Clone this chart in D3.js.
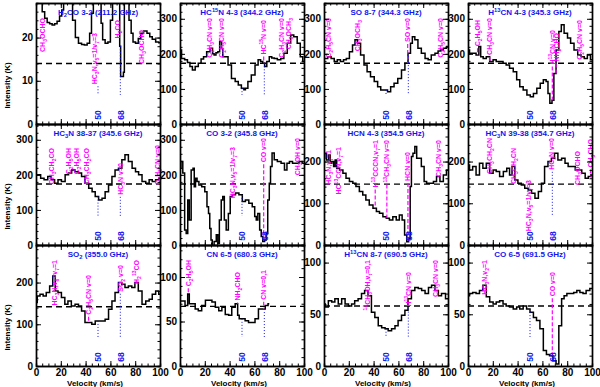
<!DOCTYPE html>
<html>
<head>
<meta charset="utf-8">
<script src="https://cdn.jsdelivr.net/npm/d3@7"></script>
<style>
body { margin: 0; background: #fff; }
svg { display: block; font-family: "Liberation Sans", Arial, sans-serif; }
</style>
</head>
<body>
<svg id="chart" width="600" height="387"></svg>
<script>
// spectra: [velocity km/s, intensity K]
const h2co = [[0,31],[2,30],[4,28],[6,26],[8,24.5],[10,23.5],[12,23.2],[14,22.9],[16,23.2],[18,23.8],[20,25],[21.5,26.4],[23,29],[25,31],[27,31],[28.5,29],[30.5,24],[33,20],[35.5,18.7],[38,18.4],[40,18.3],[42.5,18.7],[44,21],[45.5,25.6],[47,29],[50,31],[52,30],[53,23.3],[54.5,19.5],[57,18.7],[59,19],[61,24],[62.5,29],[65,31],[67,29],[68,18],[68.5,11],[70,11],[71,12],[71.5,30],[74,30],[76,24],[77.5,21],[79,19],[81.5,18.7],[83.5,19.8],[85.5,21],[88,21.5],[91,21],[92.5,20.2],[95,19.6],[98,19],[100,18.8]];
const hc15n = [[0,211],[2.5,187],[5,183],[7,175],[9,164],[11,154],[13.5,164],[16,173],[18,185],[20,192],[23,206],[25.5,216],[27,200],[28,197],[30,203],[31,206],[33,235],[34,215],[35,192],[37.5,192],[40,168],[43,130],[46,121],[48,111],[51,102],[52,98],[53.5,102],[56,121],[59,140],[62,168],[64,183],[66,178],[67.5,173],[69,164],[71,178],[73,192],[75,188],[77,187],[80,183],[82.5,187],[85,202],[88,230],[90.5,254],[93,249],[96,230],[98,192],[100,178]];
const so87 = [[0,187],[1.5,187],[4.5,192],[7,187],[9.5,178],[12,183],[14.5,178],[17,183],[19,187],[22,206],[24,225],[26,240],[28,230],[31,197],[33.5,168],[36,149],[39,135],[42,121],[44.5,106],[47,97],[50,97],[52.5,92],[55,106],[58,116],[61,130],[64,154],[66.5,173],[69,202],[70.5,230],[72,249],[74.5,240],[77,216],[80,202],[83,187],[85,183],[88,197],[91,202],[93,208],[95,211],[97.5,216],[100,221]];
const h13cn43 = [[0,211],[2.5,202],[5,202],[8,197],[9.5,221],[11,192],[13.5,187],[16,192],[19,178],[21.5,183],[24,178],[27,178],[29.5,173],[32,168],[35,159],[38,149],[40.5,126],[43,106],[46,97],[49,83],[51.5,78],[54,87],[57,102],[59.5,116],[62,126],[64,121],[65,87],[67,59],[68.5,68],[70,144],[72,211],[74.5,264],[76,283],[79,259],[81.5,245],[84,230],[87,211],[90,197],[92.5,192],[95,187],[97.5,197],[100,183]];
const hc3n3837 = [[0,200],[2.5,200],[5,190],[8,186],[11,195],[13.5,186],[16.5,176],[19,186],[22,181],[25,200],[27.5,205],[30,214],[33,209],[35.5,205],[38,195],[41,176],[44,162],[46.5,152],[49,138],[52,128],[54.5,133],[57,152],[60,171],[62.5,195],[65,214],[68,219],[70.5,243],[73,257],[76,238],[79,219],[81.5,209],[84,200],[87,181],[90,176],[92.5,186],[95,181],[98,186],[100,190]];
const co32 = [[0,219],[1.5,238],[3,205],[4.5,43],[5.5,33],[7,128],[8,71],[10,214],[11,219],[12,166],[13,190],[14.5,181],[16,171],[19,166],[21,152],[22.5,109],[23.5,90],[24.5,47],[25.5,14],[26.5,-10],[28.5,10],[30,29],[31,5],[32.5,71],[34,128],[35,138],[36.5,71],[38,43],[40,90],[41,138],[43.5,143],[46,148],[49,143],[51.5,124],[54,128],[57,119],[59.5,109],[61,81],[62,71],[63.5,90],[65,43],[66,24],[67.5,10],[69,14],[70,33],[71.5,128],[72.5,176],[73.5,224],[75,262],[77,243],[80,238],[83,233],[85.5,214],[87,233],[89.5,238],[92,233],[95,233],[97,238],[100,233]];
const hcn43 = [[0,208],[1,220],[3,204],[4.5,216],[5.5,196],[7,200],[8.5,188],[9.5,204],[11,184],[14,180],[16.5,172],[19,160],[22,152],[24.5,148],[27,140],[30,128],[32.5,120],[35,108],[38,96],[41,88],[43.5,80],[46,76],[49,68],[51.5,64],[54,60],[57,68],[59.5,60],[62,72],[64,60],[66,24],[67.5,8],[69,16],[70,140],[71,212],[72.5,220],[74,236],[75.5,208],[77,208],[80,188],[81.5,152],[84,148],[87,148],[89.5,152],[92,164],[95,152],[97.5,168],[100,180]];
const hc3n3938 = [[0,192],[2.5,180],[5,188],[8,168],[10.5,196],[13.5,184],[16,196],[19,172],[21.5,180],[24,176],[27,164],[30,176],[32.5,184],[34.5,168],[36.5,188],[39,156],[41.5,148],[44.5,144],[47,136],[50,132],[52.5,124],[55.5,112],[58,128],[60.5,148],[63,188],[66,200],[68.5,208],[71,220],[74,204],[77,208],[79.5,196],[82,188],[85,188],[88,180],[90.5,180],[93,172],[96,160],[98,164],[100,168]];
const so2 = [[0,152],[2,168],[4.5,172],[7,168],[9.5,176],[12.5,192],[14.5,216],[16.5,180],[19,176],[22,164],[24.5,148],[27,156],[30,144],[33,148],[35.5,144],[38,132],[41,104],[43.5,104],[46.5,100],[49,108],[52,108],[54.5,108],[57,112],[60,136],[62.5,156],[65,176],[68,200],[70.5,196],[73,188],[76,192],[78.5,188],[81,200],[84,180],[87,148],[90,156],[92.5,160],[95,172],[98,180],[100,172]];
const cn65 = [[0,73],[2.7,73],[5.4,68],[7,81],[8,70],[11,70],[13.5,64],[16,62],[19,68],[22,74],[24.5,74],[27,72],[30,66],[32.5,62],[35,66],[38,58],[40.5,57],[43,66],[46,70],[47,57],[48.5,53],[51,53],[54,51],[56.5,49],[59,49],[62,53],[64.5,64],[67.5,64],[70,68],[72,70]];
const h13cn87 = [[0,60],[2,57],[5,63],[7.5,62],[10,65],[13,60],[15.5,65],[18.5,60],[21,58],[23.5,60],[26,63],[29,65],[31.5,70],[34,73],[37,68],[39.5,52],[42.5,47],[45,39],[48,37],[50.5,36],[53,34],[56,36],[58.5,39],[61,44],[64,49],[66.5,54],[69,65],[72,73],[74.5,76],[77.5,75],[80,73],[83,70],[85.5,76],[88,78],[91,73],[93.5,68],[96,70],[100,65]];
const co65 = [[0,68],[2.5,70],[5,71],[8,70],[10.5,73],[13.5,78],[16,67],[19,62],[21.5,60],[24,62],[27,63],[29.5,60],[32,58],[35,57],[38,55],[40.5,57],[43,55],[46,58],[48.5,55],[51.5,52],[54,47],[56.5,44],[59.5,36],[62,15],[64.5,11],[67,10],[70,5],[72,2],[74.5,39],[76.5,65],[78.5,68],[81,70],[84,70],[86.5,71],[89,73],[91.5,71],[94,70],[96.5,73],[100,75]];

// line identifications: [velocity, name, label top offset]
const labH2co = [[5,"CH_3OCHO",15],[47,"HC_3N,v_5=1/v_7=3",30],[66,"H_2CO",17],[85,"CH_3OCHO",27]];
const labHc15n = [[23.5,"C_2H_3CN v=0",15],[33.5,"C_2H_5CN v=0",15],[67.5,"HC^{15}N v=0",17],[82,"C_2H_3CN v=0",15],[87.7,"CH_3OCH_3",15]];
const labSo87 = [[3.5,"C_2H_5CN v=0",15],[27,"CH_3OCH_3",17],[67.5,"SO v=0",15],[94,"C_2H_5CN v=0",15]];
const labH13cn43 = [[7.7,"C_2H_5OH",17],[17.6,"CH_3CN v=0",15],[68,"H^{13}CN v=0",27],[71,"NH_2CHO",30],[90,"C_2H_5CN v=0",17]];
const labHc3n3837 = [[12.7,"CH_3CH_2CO",24],[26,"C_2H_5OH",24],[33,"C_2H_5OH",24],[40.5,"CH_3CH_2CO",24],[68,"HC_3N v=0",39],[98,"C_2H_5CN v=0",21]];
const labCo32 = [[42.7,"HC_3N,v_5=1/v_7=3",23],[67.5,"CO v=0",14],[94.5,"CH_3OH v=0",14]];
const labHcn43 = [[3.5,"HC_3N,v_7=1",26],[11.6,"HC^{13}CCN,v_7=1",23],[41.3,"H^{13}CCCN,v_7=1",16],[50.7,"^{13}CH_3CN v=0",16],[67.7,"HCN v=0",28],[92.6,"CH_3CN v=0",16]];
const labHc3n3938 = [[17.3,"CH_3CH_2CN",14],[36.7,"CH_3CH_2CN",24],[48.8,"HC_3N,v_5=1/v_7=3",56],[67.7,"HC_3N v=0",14],[88.5,"CH_3OCHO",27],[98.8,"CH_3CHO",15]];
const labSo2 = [[14.6,"HC_3N,v_6=v_7=1",15],[42.4,"C_2H_5CN v=0",30],[68.5,"SO_2 v=0",20],[81,"H_2^{13}CO",15]];
const labCn65 = [[6.7,"C_2H_5OH",15],[46.4,"NH_2CHO",27],[67.5,"CN v=0,1",25]];
const labH13cn87 = [[35,"^{13}CH_3OH,v_t=0,1",15],[68.3,"H^{13}CN v=0",27],[90,"CH_3CN v=0",15]];
const labCo65 = [[13.2,"HC_3N,v_2=1",15],[68,"CO v=0",27]];

const titles = ["H_2CO 3-2 (211.2 GHz)","HC^{15}N 4-3 (344.2 GHz)","SO 8-7 (344.3 GHz)","H^{13}CN 4-3 (345.3 GHz)",
  "HC_3N 38-37 (345.6 GHz)","CO 3-2 (345.8 GHz)","HCN 4-3 (354.5 GHz)","HC_3N 39-38 (354.7 GHz)",
  "SO_2 (355.0 GHz)","CN 6-5 (680.3 GHz)","H^{13}CN 8-7 (690.5 GHz)","CO 6-5 (691.5 GHz)"];
const yMax = [28,345,345,345, 345,345,290,290, 290,136,117,117];
const continuum = [14,173,173,173, 174,174,146,146, 142,67,58,58];
const refVel = [50,68];

const spectra = [h2co,hc15n,so87,h13cn43,hc3n3837,co32,hcn43,hc3n3938,so2,cn65,h13cn87,co65];
const labels = [labH2co,labHc15n,labSo87,labH13cn43,labHc3n3837,labCo32,labHcn43,labHc3n3938,labSo2,labCn65,labH13cn87,labCo65];

const svg = d3.select("#chart");
const W = 124, H = 121;
const colX = [36, 180, 324, 468];
const rowY = [3, 124, 245];
const BLUE = "#1414f0", MAG = "#ff00ff";

// "_x" subscript, "^x" superscript, braces group several chars
function rich(text, str, size) {
  const re = /([_^])(\{[^}]*\}|.)|([^_^]+)/g;
  let m, off = 0;
  while ((m = re.exec(str)) !== null) {
    if (m[3]) {
      text.append("tspan").attr("dy", -off).text(m[3]);
      off = 0;
    } else {
      const s = m[2].replace(/[{}]/g, "");
      const d = m[1] === "_" ? size * 0.28 : -size * 0.4;
      text.append("tspan").attr("dy", d - off).attr("font-size", size * 0.72).text(s);
      off = d;
    }
  }
}

function valueAt(spec, v) {
  let best = spec[0];
  spec.forEach(p => { if (Math.abs(p[0] - v) < Math.abs(best[0] - v)) best = p; });
  return best[1];
}

spectra.forEach((spec, i) => {
  const col = i % 4, row = Math.floor(i / 4);
  const x0 = colX[col], y0 = rowY[row];
  const g = svg.append("g").attr("transform", `translate(${x0},${y0})`);

  const x = d3.scaleLinear().domain([0, 100]).range([0, W]);
  const y = d3.scaleLinear().domain([0, yMax[i]]).range([H, 0]);
  const yStep = yMax[i] > 200 ? [100, 20] : yMax[i] > 50 ? [50, 10] : [10, 2];

  const clipId = "clip" + i;
  g.append("clipPath").attr("id", clipId)
    .append("rect").attr("width", W).attr("height", H);
  const body = g.append("g").attr("clip-path", `url(#${clipId})`);

  // continuum level
  body.append("line")
    .attr("x1", 0).attr("x2", W)
    .attr("y1", y(continuum[i])).attr("y2", y(continuum[i]))
    .attr("stroke", "#000").attr("stroke-width", 1.4)
    .attr("stroke-dasharray", "6,4");

  // spectrum
  body.append("path")
    .datum(spec)
    .attr("fill", "none")
    .attr("stroke", "#000")
    .attr("stroke-width", 1.5)
    .attr("d", d3.line().curve(d3.curveStep)
      .x(d => x(d[0]))
      .y(d => y(d[1])));

  // line ids
  const ids = [];
  labels[i].forEach(l => {
    const fs = 7;
    const t = g.append("text")
      .attr("transform", `translate(${x(l[0]) + fs * 0.36},${l[2]}) rotate(-90)`)
      .attr("text-anchor", "end")
      .attr("font-size", fs)
      .attr("font-weight", "bold")
      .attr("fill", MAG);
    rich(t, l[1], fs);
    const bottom = l[2] + t.node().getComputedTextLength() + 2;
    const sy = Math.min(H, y(valueAt(spec, l[0])));
    if (sy > bottom + 1) {
      body.append("line")
        .attr("x1", x(l[0])).attr("x2", x(l[0]))
        .attr("y1", bottom).attr("y2", sy)
        .attr("stroke", MAG).attr("stroke-width", 1.2)
        .attr("stroke-dasharray", "4,2");
    }
    ids.push({ v: l[0], bottom: bottom });
  });

  // reference velocities
  refVel.forEach(v => {
    let top = Math.max(0, y(valueAt(spec, v)));
    ids.forEach(d => { if (Math.abs(d.v - v) < 3.5) top = Math.max(top, d.bottom); });
    const end = H - 29;
    if (top < end) {
      g.append("line")
        .attr("x1", x(v)).attr("x2", x(v))
        .attr("y1", top).attr("y2", end)
        .attr("stroke", BLUE).attr("stroke-width", 1)
        .attr("stroke-dasharray", "1,2");
    }
    g.append("text")
      .attr("transform", `translate(${x(v) + 3.2},${H - 9}) rotate(-90)`)
      .attr("text-anchor", "middle")
      .attr("font-size", 8.5).attr("font-weight", "bold")
      .attr("fill", BLUE)
      .text(v);
  });

  // title
  const tt = g.append("text")
    .attr("x", W / 2).attr("y", 12)
    .attr("text-anchor", "middle")
    .attr("font-size", 8).attr("font-weight", "bold")
    .attr("fill", BLUE);
  rich(tt, titles[i], 8);

  // axes with inward ticks on all sides
  const xMaj = d3.range(0, 101, 20), xMin = d3.range(0, 101, 5);
  const yMaj = d3.range(0, yMax[i] + 0.01, yStep[0]), yMin = d3.range(0, yMax[i] + 0.01, yStep[1]);

  const axes = g.append("g").attr("font-size", 8).attr("font-weight", "bold");
  axes.append("g").attr("transform", `translate(0,${H})`)
    .call(d3.axisBottom(x).tickValues(xMaj).tickSizeInner(-5).tickSizeOuter(0).tickPadding(3)
      .tickFormat(row === 2 ? d3.format("d") : ""));
  axes.append("g").attr("transform", `translate(0,${H})`)
    .call(d3.axisBottom(x).tickValues(xMin).tickSize(-2.5).tickFormat(""));
  axes.append("g")
    .call(d3.axisTop(x).tickValues(xMaj).tickSizeInner(-5).tickSizeOuter(0).tickFormat(""));
  axes.append("g")
    .call(d3.axisTop(x).tickValues(xMin).tickSize(-2.5).tickFormat(""));
  axes.append("g")
    .call(d3.axisLeft(y).tickValues(yMaj).tickSizeInner(-5).tickSizeOuter(0).tickPadding(3)
      .tickFormat(d3.format("d")));
  axes.append("g")
    .call(d3.axisLeft(y).tickValues(yMin).tickSize(-2.5).tickFormat(""));
  axes.append("g").attr("transform", `translate(${W},0)`)
    .call(d3.axisRight(y).tickValues(yMaj).tickSizeInner(-5).tickSizeOuter(0).tickFormat(""));
  axes.append("g").attr("transform", `translate(${W},0)`)
    .call(d3.axisRight(y).tickValues(yMin).tickSize(-2.5).tickFormat(""));
  axes.selectAll(".domain").attr("stroke-width", 1.4);
  axes.selectAll(".tick line").attr("stroke-width", 1);
  axes.selectAll("text").attr("fill", "#000");

  if (col === 0) {
    g.append("text")
      .attr("transform", `translate(${-26},${H / 2 + 22}) rotate(-90)`)
      .attr("text-anchor", "middle")
      .attr("font-size", 8).attr("font-weight", "bold")
      .text("Intensity (K)");
  }
  if (row === 2) {
    g.append("text")
      .attr("x", W / 2 - 3).attr("y", H + 20)
      .attr("text-anchor", "middle")
      .attr("font-size", 8).attr("font-weight", "bold")
      .text("Velocity (km/s)");
  }
});
</script>
</body>
</html>
